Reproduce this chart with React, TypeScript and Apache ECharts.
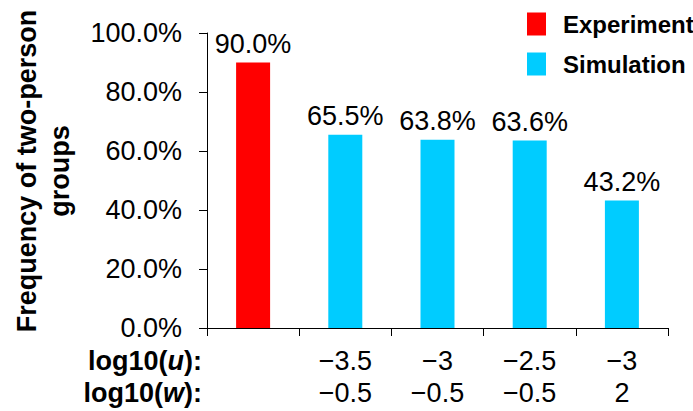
import React, { useEffect, useRef } from "react";
import * as echarts from "echarts";

const uValues = ["", "\u22123.5", "\u22123", "\u22122.5", "\u22123"];
const wValues = ["", "\u22120.5", "\u22120.5", "\u22120.5", "2"];
const experiment: (number | string)[] = [90.0, "-", "-", "-", "-"];
const simulation: (number | string)[] = ["-", 65.5, 63.8, 63.6, 43.2];
const yTicks = [0, 20, 40, 60, 80, 100];

const FONT = '"Liberation Sans", Arial, sans-serif';

export default function App() {
  const ref = useRef<HTMLDivElement>(null);
  useEffect(() => {
    if (!ref.current) return;
    const chart = echarts.init(ref.current, undefined, { renderer: "svg" });
    const cats = uValues.map((u, i) => (u === "" ? "" : `${u}\n${wValues[i]}`));
    const labelOpt = {
      show: true,
      position: "top" as const,
      distance: 5,
      fontFamily: FONT,
      fontSize: 27,
      color: "#000",
      formatter: (p: any) => `${Number(p.value).toFixed(1)}%`,
    };
    const rich = {
      b: { fontFamily: FONT, fontSize: 27, fontWeight: "bold", fill: "#000" },
      bi: { fontFamily: FONT, fontSize: 27, fontWeight: "bold", fontStyle: "italic", fill: "#000" },
    };
    chart.setOption({
      animation: false,
      backgroundColor: "#fff",
      textStyle: { fontFamily: FONT },
      grid: { left: 207, right: 25, top: 33, bottom: 83, containLabel: false },
      legend: {
        orient: "vertical",
        left: 527,
        top: 12,
        padding: 0,
        itemWidth: 19,
        itemHeight: 23,
        itemGap: 16,
        icon: "rect",
        textStyle: {
          fontFamily: FONT,
          fontSize: 24,
          fontWeight: "bold",
          color: "#000",
          padding: [0, 0, 0, 12],
        },
        data: ["Experiment", "Simulation"],
      },
      xAxis: {
        type: "category",
        data: cats,
        boundaryGap: true,
        axisLine: { lineStyle: { color: "#000", width: 1 } },
        axisTick: { show: true, inside: false, length: 8, alignWithLabel: false, lineStyle: { color: "#000" } },
        axisLabel: {
          interval: 0,
          margin: 17,
          fontFamily: FONT,
          fontSize: 27,
          lineHeight: 32,
          color: "#000",
        },
      },
      yAxis: {
        type: "value",
        min: 0,
        max: 100,
        interval: 20,
        splitLine: { show: false },
        axisLine: { show: true, lineStyle: { color: "#000", width: 1 } },
        axisTick: { show: true, length: 8, lineStyle: { color: "#000" } },
        axisLabel: {
          margin: 25,
          fontFamily: FONT,
          fontSize: 27,
          color: "#000",
          formatter: (v: number) => (yTicks.includes(v) ? `${v.toFixed(1)}%` : ""),
        },
      },
      series: [
        {
          name: "Experiment",
          type: "bar",
          data: experiment,
          barWidth: 34,
          barGap: "-100%",
          itemStyle: { color: "#FF0000" },
          label: labelOpt,
        },
        {
          name: "Simulation",
          type: "bar",
          data: simulation,
          barWidth: 34,
          itemStyle: { color: "#00CCFF" },
          label: labelOpt,
        },
      ],
      graphic: [
        {
          type: "text",
          x: 43,
          y: 171,
          rotation: Math.PI / 2,
          style: {
            text: "Frequency of two-person\ngroups",
            font: `bold 27px ${FONT}`,
            align: "center",
            verticalAlign: "middle",
            lineHeight: 33,
            fill: "#000",
          },
        },
        {
          type: "text",
          x: 202,
          y: 361,
          style: {
            text: "{b|log10(}{bi|u}{b|):}",
            align: "right",
            verticalAlign: "middle",
            fill: "#000",
            rich,
          },
        },
        {
          type: "text",
          x: 202,
          y: 393,
          style: {
            text: "{b|log10(}{bi|w}{b|):}",
            align: "right",
            verticalAlign: "middle",
            fill: "#000",
            rich,
          },
        },
      ],
    });
    return () => chart.dispose();
  }, []);
  return (
    <div style={{ position: "fixed", left: 0, top: 0, width: 693, height: 411, background: "#fff" }}>
      <div ref={ref} style={{ width: 693, height: 411 }} />
    </div>
  );
}
